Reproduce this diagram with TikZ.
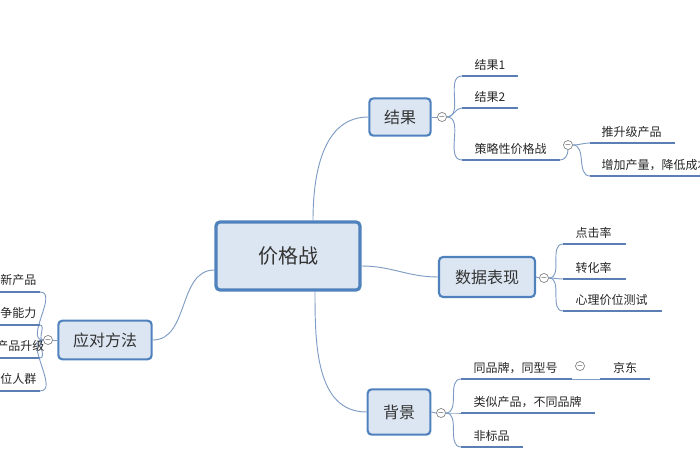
\documentclass[tikz,border=0pt]{standalone}
\usepackage{fontspec}
\setmainfont{Noto Sans CJK SC}
\usetikzlibrary{calc,positioning}
\definecolor{boxfill}{HTML}{DCE6F2}
\definecolor{boxline}{HTML}{4F81BD}
\definecolor{leafline}{HTML}{5B7FB5}
\definecolor{linkline}{HTML}{7F9CC4}
\tikzset{
	topic/.style={draw=boxline, line width=1.6pt, fill=boxfill, rounded corners=3pt, font=\fontsize{12}{14}\selectfont, text=black!80},
	leaf/.style={font=\fontsize{9}{11}\selectfont, text=black!85, inner sep=1pt},
	uline/.style={draw=leafline, line width=2pt},
	link/.style={draw=linkline, line width=0.7pt},
	fold/.style={circle, draw=gray, fill=white, inner sep=0pt, minimum size=6pt, line width=0.5pt, font=\fontsize{5}{5}\selectfont}
}
\begin{document}
\begin{tikzpicture}[x=0.75pt, y=-0.75pt]
	\useasboundingbox (0,0) rectangle (700,470);
	\clip (0,0) rectangle (700,470);

	% main topics
	\node[topic, line width=2.4pt, minimum width=108pt, minimum height=51pt, font=\fontsize{15}{17}\selectfont] (jgz) at (288,256) {价格战};
	\node[topic, minimum width=46pt, minimum height=28pt] (jg) at (400,117) {结果};
	\node[topic, minimum width=72pt, minimum height=30pt] (sj) at (487,277) {数据表现};
	\node[topic, minimum width=47pt, minimum height=34pt] (bj) at (399,412) {背景};
	\node[topic, minimum width=70pt, minimum height=29pt] (yd) at (105,340) {应对方法};

	\draw[link] ($(jgz.north)+(25,0)$) to[out=90, in=180] (jg.west);
	\draw[link] ($(jgz.east)+(0,10)$) to[out=0, in=180] (sj.west);
	\draw[link] ($(jgz.south)+(27,0)$) to[out=-90, in=180] (bj.west);
	\draw[link] ($(jgz.west)+(0,14)$) to[out=180, in=0] (yd.east);

	% fold markers
	\node[fold] (f1) at (442,117) {$-$};
	\node[fold] (f2) at (568,145) {$-$};
	\node[fold] (f3) at (544,278) {$-$};
	\node[fold] (f4) at (441,413) {$-$};
	\node[fold] (f5) at (580,366) {$-$};
	\node[fold] (f6) at (48,340) {$-$};
	\draw[link] (jg.east) -- (f1.west);
	\draw[link] (sj.east) -- (f3.west);
	\draw[link] (bj.east) -- (f4.west);
	\draw[link] (yd.west) -- (f6.east);

	% 结果
	\coordinate (a1) at (462,76);  \coordinate (a1e) at (518,76);
	\coordinate (a2) at (462,108); \coordinate (a2e) at (518,108);
	\coordinate (a3) at (462,160); \coordinate (a3e) at (560,160);
	\foreach \c in {a1,a2,a3} \draw[link] (f1.east) to[out=0, in=180] (\c);
	\draw[uline] (a1) -- (a1e); \draw[uline] (a2) -- (a2e); \draw[uline] (a3) -- (a3e);
	\node[leaf, anchor=south west] (t1) at ($(a1)+(11,-4)$) {结果1};
	\node[leaf, anchor=south west] (t2) at ($(a2)+(11,-4)$) {结果2};
	\node[leaf, anchor=south west] (t3) at ($(a3)+(11,-4)$) {策略性价格战};
	\draw[link] (a3e) to[out=0, in=-90] (f2.south);
	\coordinate (b1) at (590,143); \coordinate (b1e) at (675,143);
	\coordinate (b2) at (590,176); \coordinate (b2e) at (700,176);
	\foreach \c in {b1,b2} \draw[link] (f2.east) to[out=0, in=180] (\c);
	\draw[uline] (b1) -- (b1e); \draw[uline] (b2) -- (b2e);
	\node[leaf, anchor=south west] (t4) at ($(b1)+(10,-4)$) {推升级产品};
	\node[leaf, anchor=south west] (t5) at ($(b2)+(10,-4)$) {增加产量，降低成本};

	% 数据表现
	\coordinate (c1) at (563,244); \coordinate (c1e) at (626,244);
	\coordinate (c2) at (563,279); \coordinate (c2e) at (626,279);
	\coordinate (c3) at (563,311); \coordinate (c3e) at (662,311);
	\foreach \c in {c1,c2,c3} \draw[link] (f3.east) to[out=0, in=180] (\c);
	\draw[uline] (c1) -- (c1e); \draw[uline] (c2) -- (c2e); \draw[uline] (c3) -- (c3e);
	\node[leaf, anchor=south west] (t6) at ($(c1)+(11,-4)$) {点击率};
	\node[leaf, anchor=south west] (t7) at ($(c2)+(11,-4)$) {转化率};
	\node[leaf, anchor=south west] (t8) at ($(c3)+(11,-4)$) {心理价位测试};

	% 背景
	\coordinate (d1) at (461,379); \coordinate (d1e) at (572,379);
	\coordinate (d2) at (461,413); \coordinate (d2e) at (595,413);
	\coordinate (d3) at (461,447); \coordinate (d3e) at (523,447);
	\foreach \c in {d1,d2,d3} \draw[link] (f4.east) to[out=0, in=180] (\c);
	\draw[uline] (d1) -- (d1e); \draw[uline] (d2) -- (d2e); \draw[uline] (d3) -- (d3e);
	\node[leaf, anchor=south west] (t9) at ($(d1)+(11,-4)$) {同品牌，同型号};
	\node[leaf, anchor=south west] (t10) at ($(d2)+(11,-4)$) {类似产品，不同品牌};
	\node[leaf, anchor=south west] (t11) at ($(d3)+(11,-4)$) {非标品};
	\coordinate (e1) at (600,379); \coordinate (e1e) at (650,379);
	\draw[link] (d1e) -- (e1);
	\draw[uline] (e1) -- (e1e);
	\node[leaf, anchor=south] (t12) at ($(e1)!0.5!(e1e)+(0,-4)$) {京东};

	% 应对方法
	\coordinate (g1) at (40,292); \coordinate (g2) at (40,325);
	\coordinate (g3) at (40,358); \coordinate (g4) at (40,391);
	\foreach \c in {g1,g2,g3,g4} {
		\draw[link] (f6.west) to[out=180, in=0] (\c);
		\draw[uline] (\c) -- ++(-60,0);
	}
	\node[leaf, anchor=south east] (t13) at ($(g1)+(-2,-5)$) {推出新产品};
	\node[leaf, anchor=south east] (t14) at ($(g2)+(-2,-5)$) {提升竞争能力};
	\node[leaf, anchor=south east] (t15) at ($(g3)+(6,-5)$) {产品升级};
	\node[leaf, anchor=south east] (t16) at ($(g4)+(-2,-5)$) {定位人群};
\end{tikzpicture}
\end{document}
